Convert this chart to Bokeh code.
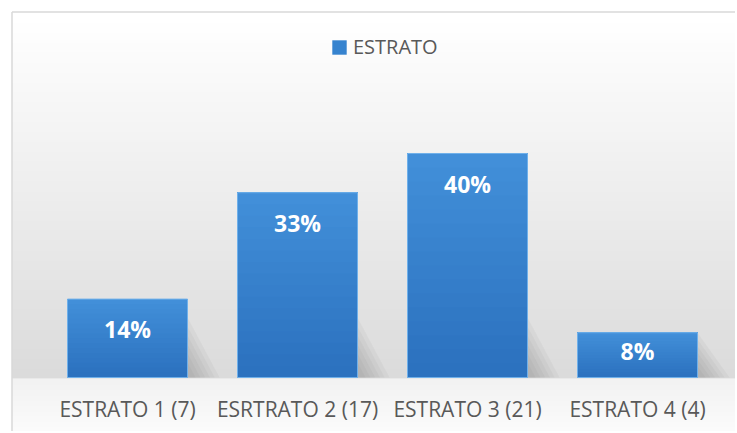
import numpy as np
from bokeh.plotting import figure
from bokeh.models import Range1d, Legend, LegendItem
from bokeh.core.properties import value
from bokeh.embed import file_html
from bokeh.resources import INLINE

# ---- data ----
categories = ["ESTRATO 1 (7)", "ESRTRATO 2 (17)", "ESTRATO 3 (21)", "ESTRATO 4 (4)"]
percent = [14, 33, 40, 8]
pct_labels = ["14%", "33%", "40%", "8%"]
series_name = "ESTRATO"

# ---- layout constants (screen pixels) ----
W, H = 735, 431
SLOT = 170.0      # px per category
FIRST = 127.0     # canvas x of first category centre
BASE = 377.0      # canvas y of zero line
PXU = 5.6         # px per percentage unit
BAR_PX = 120.0
EDGE = 11.5       # chart border position

xs = list(range(len(categories)))
x0, x1 = -FIRST / SLOT, (W - FIRST) / SLOT
y0, y1 = -(H - BASE) / PXU, BASE / PXU

p = figure(width=W, height=H, x_range=Range1d(x0, x1), y_range=Range1d(y0, y1),
           output_backend="svg", toolbar_location=None, min_border=0,
           x_axis_location=None, y_axis_location=None, outline_line_color=None,
           background_fill_color="white", border_fill_color="white")
p.title.visible = False
p.grid.visible = False

# ---- background gradient ----
g = np.empty(H)
for r in range(H):
    if r < EDGE:
        g[r] = 255
    elif r < BASE:
        t = (r - EDGE) / (BASE - EDGE)
        g[r] = 255 - 36 * t
    else:
        t = (r - BASE) / (H - BASE)
        g[r] = 242 + 10 * t
img = np.empty((H, 1), dtype=np.uint32)
view = img.view(dtype=np.uint8).reshape((H, 1, 4))
gv = g[::-1].astype(np.uint8)  # row 0 = bottom
view[:, 0, 0] = gv
view[:, 0, 1] = gv
view[:, 0, 2] = gv
view[:, 0, 3] = 255
bx = (EDGE - FIRST) / SLOT
by = (BASE - EDGE) / PXU
p.image_rgba(image=[img], x=bx, y=y0, dw=x1 - bx, dh=by - y0)

# ---- chart border (left and top) ----
p.segment(x0=[bx, bx], y0=[y0, by], x1=[bx, x1], y1=[by, by],
          line_color="#d9d9d9", line_width=1.5)

bw = BAR_PX / SLOT

# ---- soft shadows at lower-right of bars ----
for s in [1.0, 0.85, 0.7, 0.55, 0.4, 0.25]:
    pxs, pys = [], []
    for x, v in zip(xs, percent):
        r = x + bw / 2
        sh = min(v, 60 / PXU) * s
        sw = (32 / SLOT) * s
        pxs.append([r, r, r + sw, r + sw * 0.4])
        pys.append([0, sh, 0, 0])
    p.patches(pxs, pys, fill_color="#606060", fill_alpha=0.055, line_color=None)

# ---- bars ----
bars = p.vbar(x=xs, top=percent, width=bw, fill_color="#3683cf", line_color=None)
n = 16
c_bot = np.array([0x2c, 0x72, 0xbf])
c_top = np.array([0x42, 0x8f, 0xd9])
for k in range(n):
    t = k / (n - 1)
    c = (c_bot * (1 - t) + c_top * t).astype(int)
    col = "#%02x%02x%02x" % tuple(c)
    p.vbar(x=xs, bottom=[v * k / n for v in percent], top=percent, width=bw,
           fill_color=col, line_color=None)
p.vbar(x=xs, top=percent, width=bw, fill_color=None, line_color="#6fb0ea", line_width=1)

# ---- value labels ----
offsets = [min(30.0, v * PXU / 2 - 4) for v in percent]
p.text(x=xs, y=percent, text=pct_labels, y_offset=offsets,
       text_align="center", text_baseline="middle", text_color="white",
       text_font=value("Open Sans"), text_font_style="bold", text_font_size="23px")

# ---- category labels ----
p.text(x=xs, y=[0] * len(xs), text=categories, y_offset=31,
       text_align="center", text_baseline="middle", text_color="#595959",
       text_font=value("Open Sans"), text_font_size="21px")

# ---- legend ----
legend = Legend(items=[LegendItem(label=series_name, renderers=[bars])],
                location=(330, 371), orientation="horizontal",
                glyph_width=18, glyph_height=18, label_standoff=5,
                label_text_font="Open Sans", label_text_font_size="20px",
                label_text_color="#595959", border_line_color=None,
                background_fill_alpha=0, padding=0, margin=0, spacing=0)
p.add_layout(legend)

open("out.html", "w").write(file_html(p, INLINE))
